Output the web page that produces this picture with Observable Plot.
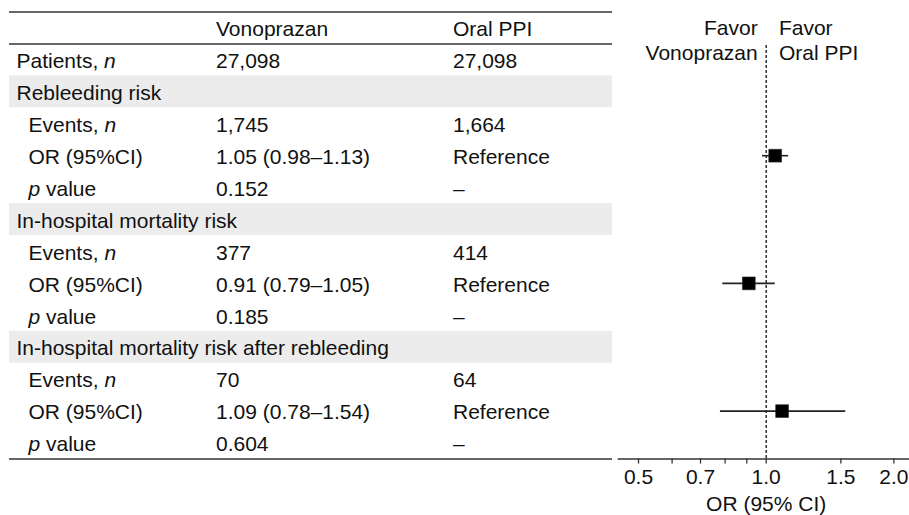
<!DOCTYPE html>
<html>
<head>
<meta charset="utf-8">
<script src="https://cdn.jsdelivr.net/npm/d3@7"></script>
<script src="https://cdn.jsdelivr.net/npm/@observablehq/plot@0.6"></script>
<style>
  html, body { margin: 0; padding: 0; background: #fff; }
  #chart { position: relative; width: 909px; height: 515px; background: #fff; }
  #chart svg { position: absolute; left: 0; top: 0; }
</style>
</head>
<body>
<div id="chart"></div>
<script>
// ---- Data ----
const headers = ["Vonoprazan", "Oral PPI"];
const rowLabels = [
  "Patients, n",
  "Rebleeding risk", "Events, n", "OR (95%CI)", "p value",
  "In-hospital mortality risk", "Events, n", "OR (95%CI)", "p value",
  "In-hospital mortality risk after rebleeding", "Events, n", "OR (95%CI)", "p value"
];
const vonoValues = [
  "27,098",
  "", "1,745", "1.05 (0.98–1.13)", "0.152",
  "", "377", "0.91 (0.79–1.05)", "0.185",
  "", "70", "1.09 (0.78–1.54)", "0.604"
];
const ppiValues = [
  "27,098",
  "", "1,664", "Reference", "–",
  "", "414", "Reference", "–",
  "", "64", "Reference", "–"
];
const sections = ["Rebleeding risk", "In-hospital mortality risk", "In-hospital mortality risk after rebleeding"];
const orValues = [1.05, 0.91, 1.09];
const ciLow = [0.98, 0.79, 0.78];
const ciHigh = [1.13, 1.05, 1.54];
const tickValues = [0.5, 0.6, 0.7, 0.8, 0.9, 1.0, 1.5, 2.0];
const tickLabels = [0.5, 0.7, 1.0, 1.5, 2.0];
const favorLeft = "Favor\nVonoprazan";
const favorRight = "Favor\nOral PPI";
const axisLabel = "OR (95% CI)";

// ---- Derived tables ----
const rows = rowLabels.map((label, i) => ({
  i, label, vono: vonoValues[i], ppi: ppiValues[i],
  section: sections.includes(label),
  indent: i > 0 && !sections.includes(label)
}));
const forest = sections.map((s, k) => ({
  outcome: s, or: orValues[k], lo: ciLow[k], hi: ciHigh[k],
  row: rowLabels.indexOf(s) + 2
}));

// ---- Shared layout ----
const W = 909, H = 515;
const yScale = {domain: [-1.5, rowLabels.length - 0.5], reverse: true};
const font = "'Liberation Sans', Arial, Helvetica, sans-serif";
const ink = "#111";
const ruleInk = "#333";
const FS = 21;
const baseStyle = {fontFamily: font, fontSize: FS + "px", color: ink, background: "transparent", overflow: "visible"};

// ---- Table plot ----
const table = Plot.plot({
  width: W, height: H,
  marginLeft: 9, marginRight: 297, marginTop: 11.5, marginBottom: 56.5,
  y: {...yScale, axis: null},
  style: {...baseStyle, background: "#fff"},
  marks: [
    Plot.rect(rows.filter(d => d.section), {y1: d => d.i - 0.5, y2: d => d.i + 0.5, fill: "#ececec"}),
    Plot.ruleY([-1.5, -0.5, rowLabels.length - 0.5], {stroke: ruleInk, strokeWidth: 1.6}),
    Plot.text([headers[0]], {y: -1, frameAnchor: "left", dx: 206.5, dy: 1.5, textAnchor: "start", fill: ink, fontSize: FS, text: d => d}),
    Plot.text([headers[1]], {y: -1, frameAnchor: "left", dx: 443.5, dy: 1.5, textAnchor: "start", fill: ink, fontSize: FS, text: d => d}),
    Plot.text(rows.filter(d => !d.indent), {y: "i", text: "label", frameAnchor: "left", dx: 7, dy: 1.5, textAnchor: "start", fill: ink, fontSize: FS}),
    Plot.text(rows.filter(d => d.indent), {y: "i", text: "label", frameAnchor: "left", dx: 19, dy: 1.5, textAnchor: "start", fill: ink, fontSize: FS}),
    Plot.text(rows, {y: "i", text: "vono", frameAnchor: "left", dx: 206.5, dy: 1.5, textAnchor: "start", fill: ink, fontSize: FS}),
    Plot.text(rows, {y: "i", text: "ppi", frameAnchor: "left", dx: 443.5, dy: 1.5, textAnchor: "start", fill: ink, fontSize: FS})
  ]
});

// italicise the "n" and "p" symbols
d3.select(table).selectAll("text").each(function () {
  const t = this.textContent;
  const sel = d3.select(this);
  if (/, n$/.test(t)) {
    sel.text(null);
    sel.append("tspan").text(t.slice(0, -1));
    sel.append("tspan").attr("font-style", "italic").text("n");
  } else if (/^p value$/.test(t)) {
    sel.text(null);
    sel.append("tspan").attr("font-style", "italic").text("p");
    sel.append("tspan").text(" value");
  }
});

// ---- Forest plot ----
const forestPlot = Plot.plot({
  width: W, height: H,
  marginLeft: 618, marginRight: 0, marginTop: 11.5, marginBottom: 56.5,
  x: {type: "log", domain: [0.4485, 2.177]},
  y: {...yScale, axis: null},
  style: baseStyle,
  marks: [
    Plot.frame({anchor: "bottom", stroke: ruleInk, strokeWidth: 1.6}),
    Plot.axisX({
      ticks: tickValues, tickSize: 5, tickPadding: 5,
      tickFormat: d => tickLabels.includes(d) ? d3.format(".1f")(d) : "",
      stroke: ruleInk, strokeWidth: 1.3, fill: ink, fontSize: FS, label: null
    }),
    Plot.text([axisLabel], {x: 1, frameAnchor: "bottom", dy: 52, fill: ink, fontSize: FS, text: d => d}),
    Plot.ruleX([1], {y1: -0.45, y2: rowLabels.length - 0.5, stroke: "#222", strokeWidth: 1.4, strokeDasharray: "3,2"}),
    Plot.text([favorLeft], {x: 1, frameAnchor: "top", textAnchor: "end", lineAnchor: "top", lineHeight: 1.2, dx: -8.5, dy: 5, fill: ink, fontSize: FS, text: d => d}),
    Plot.text([favorRight], {x: 1, frameAnchor: "top", textAnchor: "start", lineAnchor: "top", lineHeight: 1.2, dx: 12.7, dy: 5, fill: ink, fontSize: FS, text: d => d}),
    Plot.ruleY(forest, {y: "row", x1: "lo", x2: "hi", stroke: "#222", strokeWidth: 1.6}),
    Plot.dot(forest, {x: "or", y: "row", symbol: "square", r: 7.2, fill: "#000", stroke: "#222", strokeWidth: 0.6})
  ]
});

const chart = document.getElementById("chart");
chart.appendChild(table);
chart.appendChild(forestPlot);
</script>
</body>
</html>
